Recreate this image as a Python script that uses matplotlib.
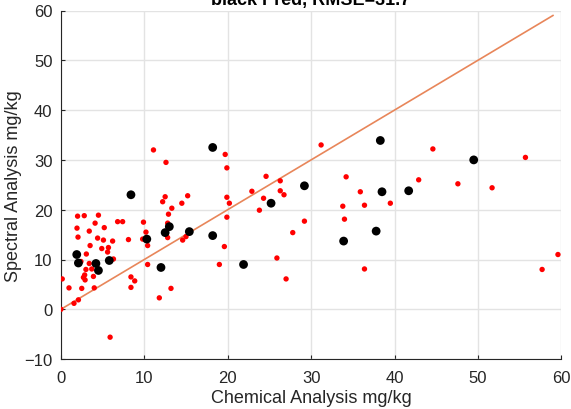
import matplotlib
matplotlib.use("Agg")
import matplotlib.pyplot as plt
import numpy as np

plt.rcParams['font.family'] = ['Liberation Sans', 'DejaVu Sans']

title_text = "black Pred, RMSE=31.7"
xlabel = "Chemical Analysis mg/kg"
ylabel = "Spectral Analysis mg/kg"
xticks = [0, 10, 20, 30, 40, 50, 60]
yticks = [-10, 0, 10, 20, 30, 40, 50, 60]

red_x = [0.16, 0, 0.97, 1.57, 2.1, 2.0, 2.8, 1.93, 2.05, 2.4, 2.5, 2.7, 2.85, 2.9, 3.0,
         3.05, 3.4, 3.5, 3.4, 3.7, 3.9, 4.0, 4.1, 4.5, 4.4, 5.1, 5.2, 4.9, 5.7, 5.6,
         6.2, 6.3, 5.9, 6.8, 7.4, 8.1, 8.4, 8.85, 8.4, 9.8, 9.9, 10.2, 10.4, 10.4, 11.8,
         12.2, 12.5, 12.9, 13.3, 12.8, 12.8, 13.2, 14.5, 15.2, 14.6, 15.0, 19.6, 19.0,
         19.9, 20.2, 19.9, 11.1, 12.6, 19.7, 19.9, 24.6, 22.9, 26.3, 26.3, 26.75, 24.3,
         23.8, 27.8, 25.9, 31.2, 34.2, 35.9, 39.5, 36.4, 33.8, 34.0, 29.2, 36.4, 27.0,
         42.9, 44.6, 55.7, 47.6, 51.7, 59.6, 57.7]
red_y = [6.1, 0, 4.3, 1.2, 1.9, 18.7, 18.8, 16.3, 14.5, 9.6, 4.2, 6.4, 6.9, 5.9, 8.0,
         11.1, 15.7, 12.8, 9.2, 8.1, 6.6, 4.3, 17.3, 18.9, 14.3, 13.9, 16.4, 12.2, 12.4, 11.5,
         13.7, 10.1, -5.6, 17.6, 17.6, 14.0, 6.5, 5.7, 4.4, 14.1, 17.5, 15.5, 12.8, 9.0, 2.3,
         21.6, 22.6, 19.1, 20.3, 17.3, 14.4, 4.2, 21.3, 22.8, 13.9, 14.6, 12.6, 9.0,
         22.5, 21.3, 18.5, 32.0, 29.5, 31.1, 28.4, 26.7, 23.7, 25.8, 23.8, 23.0, 22.3,
         19.9, 15.4, 10.3, 33.0, 26.6, 23.6, 21.3, 20.9, 20.7, 18.1, 17.7, 8.1, 6.1,
         26.0, 32.2, 30.5, 25.2, 24.4, 11.0, 8.0]

black_x = [1.9, 2.1, 4.2, 4.5, 5.8, 8.4, 10.3, 12.0, 12.5, 13.0, 15.4, 18.2, 21.9,
           18.2, 25.2, 29.2, 38.3, 38.5, 33.9, 37.8, 41.7, 49.5]
black_y = [11.0, 9.3, 9.2, 7.8, 9.8, 23.0, 14.1, 8.4, 15.4, 16.6, 15.6, 14.8, 9.0,
           32.5, 21.3, 24.8, 33.9, 23.6, 13.7, 15.7, 23.8, 30.0]

# reference 1:1 line spans 0 .. about 59
line_x = [0, 59]

fig = plt.figure(figsize=(5.71, 4.10), dpi=100)
ax = fig.add_axes([60.9/571, 1 - 360.1/410, (561.3-60.9)/571, (360.1-11.5)/410])

ax.grid(True, color='#e3e3e3', linewidth=1.0)
ax.set_axisbelow(True)

ax.scatter(red_x, red_y, s=15, color='#ff0000', edgecolors='none', zorder=3)
ax.scatter(black_x, black_y, s=40, color='#000000', edgecolors='none', zorder=4)

ax.plot(line_x, line_x, color='#e8865a', linewidth=1.2, zorder=2)

ax.set_xlim(0, 60)
ax.set_ylim(-10, 60)
ax.set_xticks(xticks)
ax.set_yticks(yticks)
ax.tick_params(direction='in', length=3, colors='#262626', labelsize=12, width=0.8)
ax.tick_params(axis='x', pad=8)
ax.tick_params(axis='y', pad=6)
for s in ['top', 'right']:
    ax.spines[s].set_visible(False)
for s in ['left', 'bottom']:
    ax.spines[s].set_color('#262626')
    ax.spines[s].set_linewidth(0.8)

ax.set_xlabel(xlabel, fontsize=13, color='#262626', labelpad=3)
ax.set_ylabel(ylabel, fontsize=13, color='#262626', labelpad=2)

fig.text(311/571, 1 - 5/410, title_text, ha='center', va='baseline',
         fontsize=13, fontweight='bold', color='#000000')

fig.savefig('out.png', dpi=100)
